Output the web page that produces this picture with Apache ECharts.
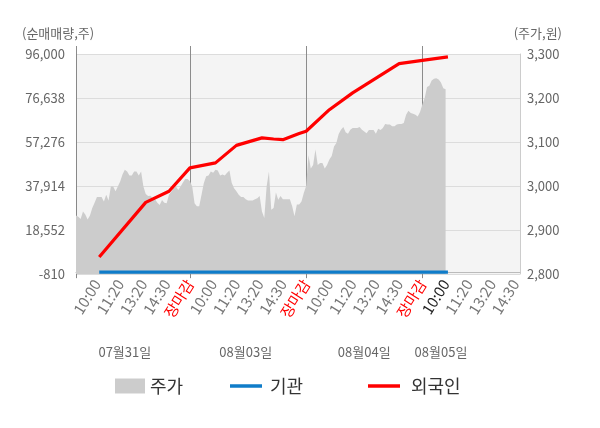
<!DOCTYPE html>
<html>
<head>
<meta charset="utf-8">
<script src="https://cdn.jsdelivr.net/npm/echarts@6/dist/echarts.min.js"></script>
<style>
html, body { margin: 0; padding: 0; background: #fff; }
#chart { width: 600px; height: 428px; }
</style>
</head>
<body>
<div id="chart"></div>
<script>
// x axis: 192 slots, 4 trading days (the last one only up to 10:00)
var slotCount = 192;
var dayLines = [0, 49, 99, 149];
var tickIdx = [9, 19, 29, 39, 49, 59, 69, 79, 89, 99, 109, 119, 129, 139, 149, 159, 169, 179, 189];
var tickText = ['10:00', '11:20', '13:20', '14:30', '장마감',
                '10:00', '11:20', '13:20', '14:30', '장마감',
                '10:00', '11:20', '13:20', '14:30', '장마감',
                '10:00', '11:20', '13:20', '14:30'];
var nowIdx = 159;
var dateIdx = [21, 73, 124, 157];
var dateText = ['07월31일', '08월03일', '08월04일', '08월05일'];

var leftTicks = [-810, 18552, 37914, 57276, 76638, 96000];

// 주가 (right axis)
var price = [
  2933, 2930, 2925, 2942, 2935, 2924, 2933, 2950, 2962, 2975,
  2975, 2975, 2965, 2980, 2967, 2999, 2999, 2988, 2999, 3010,
  3026, 3037, 3033, 3024, 3024, 3033, 3033, 3024, 3033, 2999,
  2982, 2977, 2978, 2973, 2970, 2962, 2957, 2968, 2962, 2961,
  2980, 2987, 2995, 2999, 2991, 2999, 3008, 3016, 3016, 3011,
  2999, 2961, 2954, 2954, 2980, 3007, 3022, 3024, 3033, 3030,
  3037, 3035, 3024, 3026, 3024, 3030, 3035, 3007, 2995, 2988,
  2980, 2975, 2975, 2970, 2967, 2967, 2967, 2970, 2972, 2977,
  2942, 2927, 2999, 3033, 2946, 2950, 2985, 2969, 2977, 2970,
  2970, 2970, 2970, 2954, 2931, 2958, 2958, 2965, 2984, 3000,
  3070, 3040, 3048, 3083, 3048, 3052, 3052, 3040, 3048, 3060,
  3068, 3090, 3098, 3118, 3128, 3134, 3122, 3119, 3128, 3132,
  3132, 3132, 3134, 3128, 3124, 3120, 3127, 3127, 3127, 3119,
  3130, 3127, 3132, 3141, 3140, 3140, 3136, 3136, 3140, 3141,
  3141, 3143, 3162, 3171, 3166, 3164, 3162, 3158, 3168, 3185,
  3200, 3225, 3228, 3240, 3244, 3245, 3242, 3235, 3222, 3220
];

// 순매매량 (left axis), read at the line's corners
var flowIdx = [10, 30, 40, 49, 60, 69, 80, 85, 89, 96, 99, 109, 119, 139, 149, 160];
var foreign = [6700, 30700, 35600, 45900, 48100, 55800, 59100, 58600, 58300, 61000, 62000, 71500, 78900, 91800, 93200, 94700];
var inst = [0, 0, 0, 0, 0, 0, 0, 0, 0, 0, 0, 0, 0, 0, 0, 0];

var cats = [];
for (var i = 0; i < slotCount; i++) cats.push(String(i));

function pairs(idx, vals) {
    return idx.map(function (x, k) { return [x, vals[k]]; });
}
function onList(list) {
    return function (index) { return list.indexOf(index) >= 0; };
}

var font = 'Noto Sans CJK KR';
function legendText(padLeft) {
    return { fontSize: 18, color: '#333', fontFamily: font, padding: [0, 0, 0, padLeft] };
}
var myChart = echarts.init(document.getElementById('chart'));
var option = {
    animation: false,
    textStyle: { fontFamily: font },
    title: [
        { text: '(순매매량,주)', left: 22, top: 27, padding: 0,
          textStyle: { fontSize: 13, fontWeight: 'normal', color: '#666', fontFamily: font } },
        { text: '(주가,원)', right: 38, top: 27, padding: 0,
          textStyle: { fontSize: 13, fontWeight: 'normal', color: '#666', fontFamily: font } }
    ],
    legend: [
        { data: [{ name: '주가', icon: 'rect' }], left: 110, top: 372, itemWidth: 30, itemHeight: 15,
          textStyle: legendText(0) },
        { data: [{ name: '기관', icon: 'rect' }], left: 225, top: 372, itemWidth: 32, itemHeight: 3.5,
          itemStyle: { borderWidth: 0 }, textStyle: legendText(3) },
        { data: [{ name: '외국인', icon: 'rect' }], left: 363, top: 372, itemWidth: 32, itemHeight: 3.5,
          itemStyle: { borderWidth: 0 }, textStyle: legendText(6) }
    ],
    grid: {
        left: 76, right: 80, top: 54, bottom: 154,
        show: true, backgroundColor: '#f4f4f4', borderWidth: 0,
        outerBoundsMode: 'none'
    },
    xAxis: [
        {
            type: 'category', data: cats, boundaryGap: false,
            axisLine: { lineStyle: { color: '#bbb' } },
            axisTick: { show: true, interval: onList(dayLines), length: 6, lineStyle: { color: '#888' } },
            axisLabel: {
                interval: onList(tickIdx), rotate: 58, fontSize: 15, margin: 7,
                formatter: function (v) {
                    var k = tickIdx.indexOf(+v);
                    return k >= 0 ? tickText[k] : '';
                },
                color: function (v) {
                    var k = tickIdx.indexOf(+v);
                    if (k >= 0 && tickText[k] === '장마감') return '#ff0000';
                    if (+v === nowIdx) return '#222';
                    return '#777';
                }
            },
            splitLine: { show: true, interval: onList(dayLines.slice(1)), lineStyle: { color: '#8c8c8c' } }
        },
        {
            type: 'category', data: cats, boundaryGap: false, position: 'top',
            axisLine: { show: false },
            axisTick: { show: true, interval: onList(dayLines), length: 8, lineStyle: { color: '#8c8c8c' } },
            axisLabel: { show: false },
            splitLine: { show: false }
        },
        {
            type: 'category', data: cats, boundaryGap: false, position: 'bottom', offset: 64,
            axisLine: { show: false, onZero: false },
            axisTick: { show: false },
            axisLabel: {
                interval: onList(dateIdx), fontSize: 13, color: '#666', margin: 8,
                formatter: function (v) {
                    var k = dateIdx.indexOf(+v);
                    return k >= 0 ? dateText[k] : '';
                }
            },
            splitLine: { show: false }
        }
    ],
    yAxis: [
        {
            type: 'value', min: -810, max: 96000, position: 'left',
            axisLine: { show: true, lineStyle: { color: '#888' } },
            axisTick: { show: false, customValues: leftTicks },
            axisLabel: {
                customValues: leftTicks, fontSize: 13, color: '#666', margin: 11,
                formatter: function (v) { return v.toLocaleString('en-US'); }
            },
            splitLine: { show: true, lineStyle: { color: '#dcdcdc' } }
        },
        {
            type: 'value', min: 2800, max: 3300, interval: 100, position: 'right',
            axisLine: { show: true, lineStyle: { color: '#ccc' } },
            axisTick: { show: false },
            axisLabel: {
                fontSize: 13, color: '#666', margin: 7,
                formatter: function (v) { return v.toLocaleString('en-US'); }
            },
            splitLine: { show: false }
        }
    ],
    series: [
        {
            name: '주가', type: 'line', yAxisIndex: 1, data: price,
            symbol: 'none', z: 1,
            itemStyle: { color: '#cccccc' },
            lineStyle: { width: 0, color: '#cccccc' },
            areaStyle: { color: '#cccccc', opacity: 1 }
        },
        {
            name: '기관', type: 'line', yAxisIndex: 0, data: pairs(flowIdx, inst),
            symbol: 'none', z: 4,
            itemStyle: { color: '#0f7cc9' },
            lineStyle: { width: 3.3, color: '#0f7cc9' }
        },
        {
            name: '외국인', type: 'line', yAxisIndex: 0, data: pairs(flowIdx, foreign),
            symbol: 'none', z: 3,
            itemStyle: { color: '#ff0000' },
            lineStyle: { width: 3.2, color: '#ff0000' }
        }
    ]
};
myChart.setOption(option);
</script>
</body>
</html>
